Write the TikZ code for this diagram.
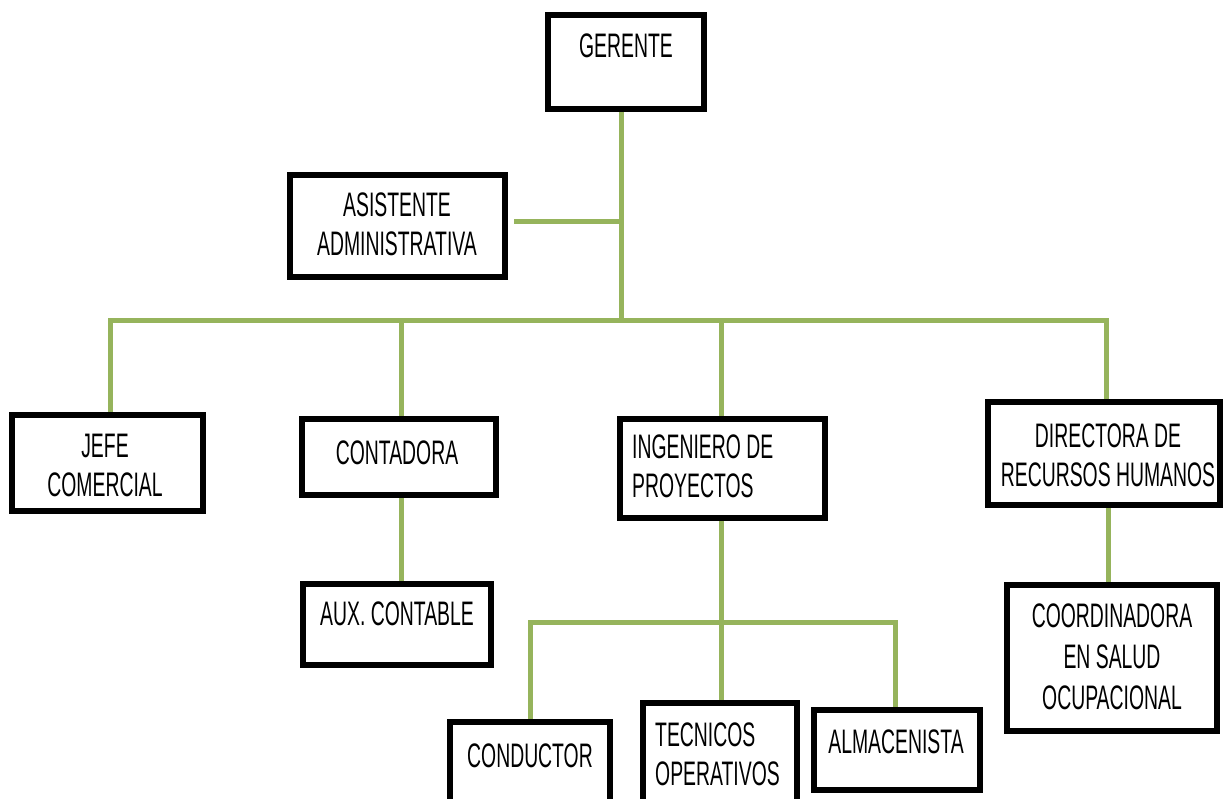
\documentclass[tikz,border=0pt]{standalone}
\usepackage{fontspec}
\setmainfont{Liberation Sans}[FakeStretch=0.57]
\usetikzlibrary{backgrounds}
\definecolor{lnk}{RGB}{150,180,92}
\begin{document}
\begin{tikzpicture}[x=1pt,y=-1pt,
  box/.style={draw=black, line width=6pt, fill=white, inner sep=0pt},
  lbl/.style={inner sep=0pt, align=center, font=\fontsize{34}{39}\selectfont},
  link/.style={draw=lnk, line width=5pt, line cap=rect}]
\useasboundingbox (0,0) rectangle (1224,799);
% boxes
\node[box, minimum width=156pt, minimum height=94pt]  (ger)   at (626,62) {};
\node[box, minimum width=215pt, minimum height=102pt] (asi)   at (397.5,226) {};
\node[box, minimum width=191pt, minimum height=96pt]  (jefe)  at (107.5,463) {};
\node[box, minimum width=194pt, minimum height=76pt]  (cont)  at (399,457) {};
\node[box, minimum width=188pt, minimum height=81pt]  (aux)   at (397,624.5) {};
\node[box, minimum width=205pt, minimum height=99pt]  (ing)   at (722.5,468.5) {};
\node[box, minimum width=232pt, minimum height=103pt] (dir)   at (1104,453.5) {};
\node[box, minimum width=210pt, minimum height=146pt] (coord) at (1112,658) {};
\node[box, minimum width=160pt, minimum height=108pt] (cond)  at (530,776) {};
\node[box, minimum width=154pt, minimum height=127pt] (tec)   at (720,766.5) {};
\node[box, minimum width=166pt, minimum height=80pt]  (alm)   at (897,750) {};
% texts
\node[lbl] (tger)  at (626,46)  {GERENTE};
\node[lbl] (tasi)  at (397,224) {ASISTENTE\\ADMINISTRATIVA};
\node[lbl] (tjefe) at (105,465) {JEFE\\COMERCIAL};
\node[lbl] (tcont) at (397,453) {CONTADORA};
\node[lbl] (taux)  at (397,614) {AUX. CONTABLE};
\node[lbl, align=left, anchor=west] (ting) at (632,466) {INGENIERO DE\\PROYECTOS};
\node[lbl] (tdir)  at (1108,455) {DIRECTORA DE\\RECURSOS HUMANOS};
\node[lbl, font=\fontsize{34}{41}\selectfont] (tcoord) at (1112,657) {COORDINADORA\\EN SALUD\\OCUPACIONAL};
\node[lbl] (tcond) at (530,756) {CONDUCTOR};
\node[lbl, align=left, anchor=west] (ttec) at (655,754) {TECNICOS\\OPERATIVOS};
\node[lbl] (talm)  at (896,742) {ALMACENISTA};
% connectors
\coordinate (ta) at (621,222);
\coordinate (tb) at (621,321);
\coordinate (bl) at (110,321);
\coordinate (br) at (1106,321);
\coordinate (b2) at (401,321);
\coordinate (b3) at (721,321);
\coordinate (cd) at (1108,545);
\coordinate (c1) at (530,622);
\coordinate (c2) at (721,622);
\coordinate (c3) at (895,622);
\begin{pgfonlayer}{background}
\draw[link] (ger.south -| tb) -- (tb);
\draw[link] ([xshift=8pt]asi.east |- ta) -- (ta);
\draw[link] (bl) -- (br);
\draw[link] (bl) -- (bl |- jefe.north);
\draw[link] (b2) -- (b2 |- cont.north);
\draw[link] (b3) -- (b3 |- ing.north);
\draw[link] (br) -- (br |- dir.north);
\draw[link] (cont.south -| b2) -- (b2 |- aux.north);
\draw[link] (cd |- dir.south) -- (cd |- coord.north);
\draw[link] (ing.south -| c2) -- (c2);
\draw[link] (c1) -- (c3);
\draw[link] (c1) -- (c1 |- cond.north);
\draw[link] (c2) -- (c2 |- tec.north);
\draw[link] (c3) -- (c3 |- alm.north);
\end{pgfonlayer}
\end{tikzpicture}
\end{document}
